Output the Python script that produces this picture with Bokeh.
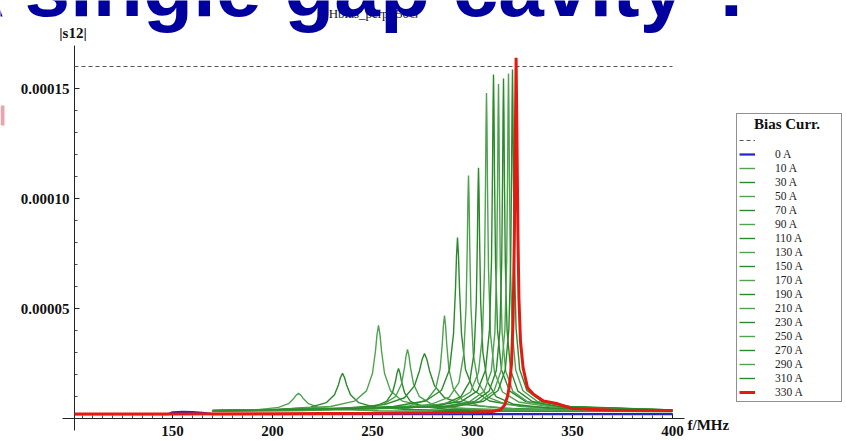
import numpy as np
from bokeh.plotting import figure
from bokeh.models import Range1d, Legend, LegendItem, Label, BoxAnnotation
from bokeh.embed import file_html
from bokeh.resources import INLINE
from bokeh.core.properties import value

# ---------------------------------------------------------------- data
# |s12| spectra for each bias current; frequencies in MHz, magnitudes in 1e-6
currents = ["0 A", "10 A", "30 A", "50 A", "70 A", "90 A", "110 A", "130 A", "150 A",
            "170 A", "190 A", "210 A", "230 A", "250 A", "270 A", "290 A", "310 A", "330 A"]

freq_MHz = [
    [101, 148, 150, 155, 160, 165, 170, 400],
    [170, 173, 193, 203, 208, 210.5, 211.75, 213, 214.25, 215.5, 218, 223, 233, 253, 293, 400],
    [170, 203, 219, 227, 231, 233, 234, 235, 236, 237, 239, 243, 251, 267, 299, 400],
    [170, 205, 229, 241, 247, 250, 251.5, 252.25, 253, 253.75, 254.5, 256, 259, 265, 277, 301, 400],
    [170, 215, 239, 251, 257, 260, 261.5, 262.25, 263, 263.75, 264.5, 266, 269, 275, 287, 311, 400],
    [170, 219.5, 243.5, 255.5, 261.5, 264.5, 266, 266.75, 267.5, 268.25, 269, 270.5, 273.5, 279.5, 291.5, 315.5, 400],
    [170, 196, 236, 256, 266, 271, 273.5, 274.75, 276, 277.25, 278.5, 281, 286, 296, 316, 356, 400],
    [170, 215.6, 250.8, 268.4, 277.2, 281.6, 283.8, 284.9, 285.45, 286, 286.55, 287.1, 288.2, 290.4, 294.8, 303.6, 321.2, 356.4, 400],
    [170, 228.5, 260.5, 276.5, 284.5, 288.5, 290.5, 291.5, 292, 292.5, 293, 293.5, 294.5, 296.5, 300.5, 308.5, 324.5, 356.5, 400],
    [170, 259.6, 278.8, 288.4, 293.2, 295.6, 296.8, 297.4, 297.7, 298, 298.3, 298.6, 299.2, 300.4, 302.8, 307.6, 317.2, 336.4, 400],
    [170, 267.8, 285.4, 294.2, 298.6, 300.8, 301.9, 302.45, 302.725, 303, 303.275, 303.55, 304.1, 305.2, 307.4, 311.8, 320.6, 338.2, 400],
    [170, 275, 291, 299, 303, 305, 306, 306.5, 306.75, 307, 307.25, 307.5, 308, 309, 311, 315, 323, 339, 400],
    [170, 278.5, 294.5, 302.5, 306.5, 308.5, 309.5, 310, 310.25, 310.5, 310.75, 311, 311.5, 312.5, 314.5, 318.5, 326.5, 342.5, 400],
    [170, 284.2, 298.6, 305.8, 309.4, 311.2, 312.1, 312.55, 312.775, 313, 313.225, 313.45, 313.9, 314.8, 316.6, 320.2, 327.4, 341.8, 400],
    [170, 286.7, 301.1, 308.3, 311.9, 313.7, 314.6, 315.05, 315.275, 315.5, 315.725, 315.95, 316.4, 317.3, 319.1, 322.7, 329.9, 344.3, 400],
    [170, 289.2, 303.6, 310.8, 314.4, 316.2, 317.1, 317.55, 317.775, 318, 318.225, 318.45, 318.9, 319.8, 321.6, 325.2, 332.4, 346.8, 400],
    [170, 291.2, 305.6, 312.8, 316.4, 318.2, 319.1, 319.55, 319.775, 320, 320.225, 320.45, 320.9, 321.8, 323.6, 327.2, 334.4, 348.8, 400],
    [101, 150, 200, 250, 280, 300, 310, 314, 316, 317.5, 318.5, 319.5, 320.3, 320.9, 321.4, 321.8, 322.2,
     322.7, 323.2, 324, 325.3, 327.5, 330.5, 335.5, 342, 350, 370, 400],
]

s12_micro = [
    [2.0, 2.0, 2.8, 3.0, 2.9, 2.6, 2.0, 2.0],
    [3.49, 3.52, 4.04, 5.04, 6.75, 8.94, 10.51, 11.4, 10.51, 8.94, 6.75, 5.04, 4.04, 3.52, 3.26, 3.11],
    [3.54, 4.09, 5.17, 7.25, 10.82, 15.37, 18.65, 20.5, 18.65, 15.37, 10.82, 7.25, 5.17, 4.09, 3.55, 3.21],
    [3.71, 4.23, 5.45, 7.87, 12.55, 20.57, 30.79, 38.13, 42.3, 38.13, 30.79, 20.57, 12.55, 7.87, 5.45, 4.23, 3.4],
    [3.32, 3.61, 4.23, 5.44, 7.79, 11.81, 16.93, 20.61, 22.7, 20.61, 16.93, 11.81, 7.79, 5.44, 4.23, 3.61, 3.22],
    [3.44, 3.89, 4.77, 6.52, 9.90, 15.69, 23.08, 28.39, 31.4, 28.39, 23.08, 15.69, 9.90, 6.52, 4.77, 3.89, 3.32],
    [3.63, 3.83, 4.65, 6.29, 9.44, 14.85, 21.74, 26.69, 29.5, 26.69, 21.74, 14.85, 9.44, 6.29, 4.65, 3.83, 3.54],
    [3.42, 3.68, 4.37, 5.73, 8.43, 13.64, 22.58, 33.97, 42.16, 46.8, 42.16, 33.97, 22.58, 13.64, 8.43, 5.73, 4.37, 3.68, 3.42],
    [3.65, 4.24, 5.47, 7.95, 12.83, 22.27, 38.45, 59.07, 73.89, 82.3, 73.89, 59.07, 38.45, 22.27, 12.83, 7.95, 5.47, 4.24, 3.74],
    [3.5, 4.68, 6.35, 9.71, 16.33, 29.12, 51.05, 79.0, 99.1, 110.5, 99.1, 79.0, 51.05, 29.12, 16.33, 9.71, 6.35, 4.68, 3.63],
    [3.46, 4.73, 6.46, 9.93, 16.76, 29.97, 52.62, 81.48, 102.23, 114, 102.23, 81.48, 52.62, 29.97, 16.76, 9.93, 6.46, 4.73, 3.63],
    [3.53, 5.26, 7.52, 12.05, 20.98, 38.24, 67.82, 105.5, 132.6, 148, 132.6, 105.5, 67.82, 38.24, 20.98, 12.05, 7.52, 5.26, 3.78],
    [3.55, 5.39, 7.79, 12.57, 22.02, 40.28, 71.57, 111.45, 140.14, 156.4, 140.14, 111.45, 71.57, 40.28, 22.02, 12.57, 7.79, 5.39, 3.86],
    [3.47, 5.32, 7.65, 12.30, 21.48, 39.21, 69.6, 108.34, 136.2, 152, 136.2, 108.34, 69.6, 39.21, 21.48, 12.30, 7.65, 5.32, 3.77],
    [3.47, 5.36, 7.73, 12.45, 21.79, 39.81, 70.72, 110.1, 138.44, 154.5, 138.44, 110.1, 70.72, 39.81, 21.79, 12.45, 7.73, 5.36, 3.81],
    [3.47, 5.40, 7.80, 12.60, 22.07, 40.37, 71.75, 111.74, 140.5, 156.8, 140.5, 111.74, 71.75, 40.37, 22.07, 12.60, 7.80, 5.40, 3.84],
    [3.47, 5.43, 7.85, 12.71, 22.29, 40.81, 72.55, 113.0, 142.1, 158.6, 142.1, 113.0, 72.55, 40.81, 22.29, 12.71, 7.85, 5.43, 3.88],
    [2.0, 2.0, 2.2, 2.4, 2.6, 2.8, 3.2, 4.0, 6.0, 10, 15, 25, 45, 80, 125, 164, 130,
     85, 55, 35, 23, 14, 11, 8, 6.8, 4.5, 3.8, 3.6],
]

ref_level = 0.00016          # dashed reference line
ref_span = [101, 400]

x_major_ticks = [150, 200, 250, 300, 350, 400]
y_major_ticks = [0.00005, 0.00010, 0.00015]
y_major_labels = ["0.00005", "0.00010", "0.00015"]

# ---------------------------------------------------------------- layout
W, H = 846, 441
PX_PER_MHZ = 2.0
PX_PER_UNIT = 2.2e6
X0_PX, Y0_PX = 72, 418          # pixel position of f=100 MHz and |s12|=0
x_lo = 100 - X0_PX / PX_PER_MHZ
y_lo = -(H - Y0_PX) / PX_PER_UNIT

AXIS_F = 101                     # where the vertical axis crosses
X_AXIS_SPAN = (95, 406)
Y_AXIS_SPAN = (-5.45e-6, 169.5e-6)

SERIF = "Liberation Serif"

p = figure(width=W, height=H,
           x_range=Range1d(x_lo, x_lo + W / PX_PER_MHZ),
           y_range=Range1d(y_lo, y_lo + H / PX_PER_UNIT),
           x_axis_location=None, y_axis_location=None,
           min_border=0, toolbar_location=None, output_backend="svg")
p.outline_line_color = None
p.grid.grid_line_color = None
p.background_fill_color = "white"
p.border_fill_color = "white"

# ---------------------------------------------------------------- axes
ax_col = "#222222"
p.segment(x0=[X_AXIS_SPAN[0]], y0=[0], x1=[X_AXIS_SPAN[1]], y1=[0], line_color=ax_col, line_width=1)
p.segment(x0=[AXIS_F], y0=[Y_AXIS_SPAN[0]], x1=[AXIS_F], y1=[Y_AXIS_SPAN[1]], line_color=ax_col, line_width=1)

x_minor = [f for f in range(105, 405, 5) if f not in x_major_ticks]
y_minor = [k * 1e-5 for k in range(1, 17) if k % 5 != 0]

major_len_y = 5 / PX_PER_UNIT
minor_len_y = 3 / PX_PER_UNIT
p.segment(x0=x_major_ticks, y0=[0] * len(x_major_ticks), x1=x_major_ticks,
          y1=[major_len_y] * len(x_major_ticks), line_color=ax_col, line_width=1)
p.segment(x0=x_minor, y0=[0] * len(x_minor), x1=x_minor,
          y1=[minor_len_y] * len(x_minor), line_color=ax_col, line_width=0.8)

major_len_x = 5 / PX_PER_MHZ
minor_len_x = 3 / PX_PER_MHZ
p.segment(x0=[AXIS_F] * 3, y0=y_major_ticks, x1=[AXIS_F + major_len_x] * 3,
          y1=y_major_ticks, line_color=ax_col, line_width=1)
p.segment(x0=[AXIS_F] * len(y_minor), y0=y_minor, x1=[AXIS_F + minor_len_x] * len(y_minor),
          y1=y_minor, line_color=ax_col, line_width=0.8)

p.text(x=x_major_ticks, y=[0] * len(x_major_ticks), text=[str(t) for t in x_major_ticks],
       y_offset=7, text_align="center", text_baseline="top",
       text_font=value(SERIF), text_font_style="bold", text_font_size="15px", text_color="#111111")
p.text(x=[AXIS_F] * 3, y=y_major_ticks, text=y_major_labels,
       x_offset=-5, text_align="right", text_baseline="middle",
       text_font=value(SERIF), text_font_style="bold", text_font_size="15px", text_color="#111111")

p.text(x=[AXIS_F], y=[Y_AXIS_SPAN[1]], text=["|s12|"], x_offset=-1.5, y_offset=-13,
       text_align="center", text_baseline="middle",
       text_font=value(SERIF), text_font_style="bold", text_font_size="15px", text_color="#111111")
p.text(x=[X_AXIS_SPAN[1]], y=[0], text=["f/MHz"], x_offset=3, y_offset=6,
       text_align="left", text_baseline="middle",
       text_font=value(SERIF), text_font_style="bold", text_font_size="15px", text_color="#111111")

# ---------------------------------------------------------------- curves
dash_r = p.line(ref_span, [ref_level, ref_level], line_color="#555555", line_width=1.1, line_dash="4 3")

greens = ["#2a8a2a", "#4fa34f"]
renderers = []
for i, (fs, vs) in enumerate(zip(freq_MHz, s12_micro)):
    ys = np.array(vs) * 1e-6
    if i == 0:
        color, lw = "#2323c8", 2.2
    elif i == len(freq_MHz) - 1:
        color, lw = "#e41a12", 3.0
    else:
        color, lw = greens[i % 2], 1.4
    renderers.append(p.line(fs, ys, line_color=color, line_width=lw))

# draw order: red on top of the greens, blue at the bottom
p.renderers.remove(renderers[-1])
p.renderers.append(renderers[-1])

items = [LegendItem(label=value(""), renderers=[dash_r])]
items += [LegendItem(label=value(c), renderers=[r]) for c, r in zip(currents, renderers)]

legend = Legend(items=items, location=(736, 39),
                title="\u00a0\u00a0\u00a0\u00a0Bias Curr.",
                title_text_font=SERIF, title_text_font_style="bold", title_text_font_size="15px",
                title_text_color="#111111", title_standoff=0,
                label_text_font=SERIF, label_text_font_size="11.5px", label_text_color="#222222",
                glyph_width=16, glyph_height=14, label_height=14, label_width=64,
                label_standoff=20, spacing=0, padding=2, margin=0,
                border_line_color="#222222", border_line_width=1,
                background_fill_color="white", background_fill_alpha=1.0)
p.add_layout(legend)

# ---------------------------------------------------------------- titles
p.add_layout(Label(x=373, y=H - 13, x_units="screen", y_units="screen",
                   text="Hbias_perp=50G", text_align="center", text_baseline="middle",
                   text_font=SERIF, text_font_size="13px", text_color="#111111"))
p.add_layout(Label(x=-55, y=H + 13.5, x_units="screen", y_units="screen",
                   text="A single gap cavity ?", text_align="left", text_baseline="alphabetic",
                   text_font="Liberation Sans", text_font_style="bold", text_font_size="82px",
                   text_color="#00009e"))
p.add_layout(BoxAnnotation(left=0, right=4, bottom=H - 125, top=H - 105,
                           left_units="screen", right_units="screen",
                           bottom_units="screen", top_units="screen",
                           fill_color="#e9a5ab", fill_alpha=1.0, line_color=None))

open("out.html", "w").write(file_html(p, INLINE))
